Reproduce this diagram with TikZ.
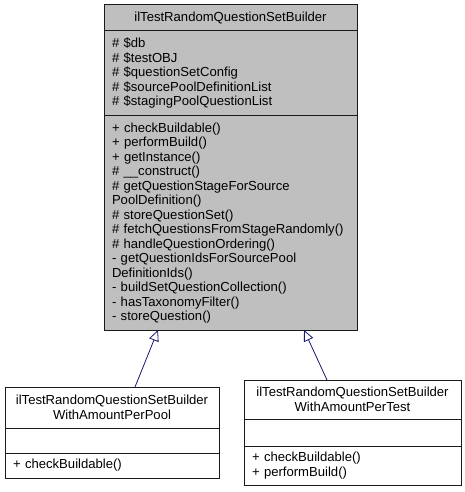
\documentclass[tikz,border=0pt]{standalone}
\usepackage{fontspec}
\setmainfont{Liberation Sans}
\usetikzlibrary{arrows.meta,positioning,calc}
\definecolor{edge}{HTML}{191970}
\definecolor{basefill}{HTML}{BFBFBF}
\definecolor{frame}{HTML}{1A1A1A}
\tikzset{
  part/.style={draw=frame, line width=1pt, anchor=north west, outer sep=0pt,
               inner xsep=8pt, inner ysep=0pt, align=left,
               font={\fontsize{13.1}{14.5}\selectfont\hyphenpenalty=10000\relax}},
  title/.style={part, align=center},
  inherit/.style={-{Triangle[open,length=11pt,width=10pt]}, draw=edge, line width=0.8pt}
}

\begin{document}
\begin{tikzpicture}[x=1pt,y=-1pt]
  \useasboundingbox (0,0) rectangle (464,492);
  % base class
  \node[title,fill=basefill,text width=237pt,minimum height=26pt] (bt) at (104,5) {ilTestRandomQuestionSetBuilder};
  \node[part,fill=basefill,text width=237pt,minimum height=85pt] (ba) at (bt.south west)
    {\# \$db\\\# \$testOBJ\\\# \$questionSetConfig\\\# \$sourcePoolDefinitionList\\\# \$stagingPoolQuestionList};
  \node[part,fill=basefill,text width=237pt,minimum height=214pt] (bm) at (ba.south west)
    {+ checkBuildable()\\+ performBuild()\\+ getInstance()\\\# \_\_construct()\\\# getQuestionStageForSource\\PoolDefinition()\\\# storeQuestionSet()\\\# fetchQuestionsFromStageRandomly()\\\# handleQuestionOrdering()\\- getQuestionIdsForSourcePool\\DefinitionIds()\\- buildSetQuestionCollection()\\- hasTaxonomyFilter()\\- storeQuestion()};
  % per pool
  \node[title,fill=white,text width=198pt,minimum height=41pt] (pt) at (5,387) {ilTestRandomQuestionSetBuilder\\WithAmountPerPool};
  \node[part,fill=white,text width=198pt,minimum height=25pt] (pa) at (pt.south west) {};
  \node[part,fill=white,text width=198pt,minimum height=25pt] (pm) at (pa.south west) {+ checkBuildable()};
  % per test
  \node[title,fill=white,text width=201pt,minimum height=39pt] (tt) at (244,380) {ilTestRandomQuestionSetBuilder\\WithAmountPerTest};
  \node[part,fill=white,text width=201pt,minimum height=27pt] (ta) at (tt.south west) {};
  \node[part,fill=white,text width=201pt,minimum height=39pt] (tm) at (ta.south west) {+ checkBuildable()\\+ performBuild()};
  % inheritance
  \draw[inherit] ($(pt.north west)+(130,0)$) -- ($(bm.south west)+(54,0)$);
  \draw[inherit] ($(tt.north west)+(83,0)$) -- ($(bm.south west)+(200,0)$);
\end{tikzpicture}
\end{document}
